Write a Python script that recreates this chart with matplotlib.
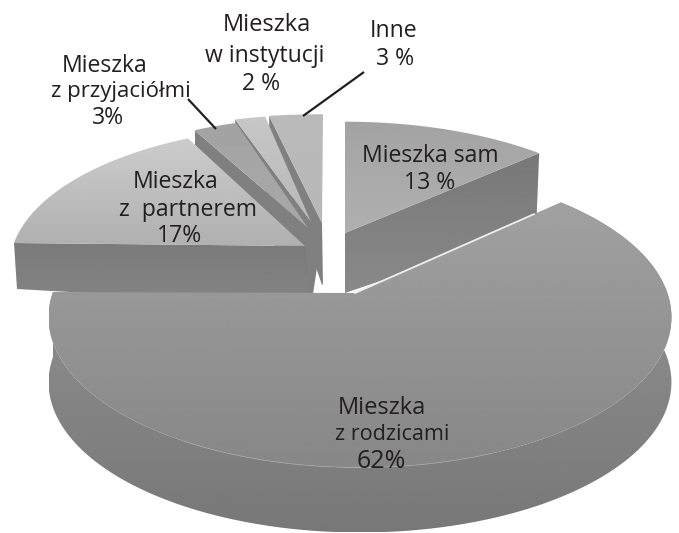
import numpy as np
import matplotlib
matplotlib.use("Agg")
import matplotlib.pyplot as plt
from matplotlib.patches import Polygon

# --- data ---
categories = ["Mieszka sam", "Mieszka z rodzicami", "Mieszka z partnerem",
              "Mieszka z przyjaciółmi", "Mieszka w instytucji", "Inne"]
shares = [13, 62, 17, 3, 2, 3]

# --- layout of the exploded 3D slices (pixels of the canvas) ---
W, H = 679, 533
PERSP = 0.168
geom = [
    dict(o=(345, 233), a=297, b=130, tip=(345, 233), d0=60, d1=75, lean=3, top=(0.64, 0.69), wall=(0.47, 0.54)),
    dict(o=(360, 292), a=307, b=146, tip=(355, 293), d0=65, d1=65, lean=0, top=(0.63, 0.53), wall=(0.59, 0.47)),
    dict(o=(314, 243), a=300, b=137, tip=(305, 246), d0=60, d1=46, lean=3, top=(0.80, 0.69), wall=(0.48, 0.52)),
    dict(o=(308, 228), a=270, b=128, tip=(308, 228), d0=60, d1=14, lean=0, top=(0.64, 0.66), wall=(0.50, 0.50)),
    dict(o=(311, 222), a=285, b=125, tip=(311, 222), d0=60, d1=12, lean=0, top=(0.78, 0.72), wall=(0.50, 0.50)),
    dict(o=(323, 223), a=335, b=127, tip=(322, 223), d0=62, d1=12, lean=0, top=(0.73, 0.72), wall=(0.50, 0.50)),
]
draw_order = [5, 4, 3, 0, 2, 1]
hub_shadow = [(300, 240), (322, 223), (323, 286), (317, 268), (313, 294), (300, 294)]

FS = 16.6
label_lines = [
    ("Mieszka sam", 430, 156, FS), ("13 %", 430, 183, FS),
    ("Mieszka", 176, 182, FS), ("z  partnerem", 188, 210, FS), ("17%", 180, 236, FS),
    ("Mieszka", 382, 408, 17.0), ("z rodzicami", 392, 435, 15.6), ("62%", 381, 461, 18.0),
    ("Mieszka", 267, 25, 17.0), ("w instytucji", 265, 56, 16.6), ("2 %", 261, 84, FS),
    ("Inne", 394, 31, FS), ("3 %", 395, 59, FS),
    ("Mieszka", 105, 66, FS), ("z przyjaciółmi", 121, 92, 16.0), ("3%", 108, 118, FS),
]
leaders = [((216, 129), (188, 99)), ((303, 116), (364, 72))]

plt.rcParams["font.family"] = ["Open Sans", "DejaVu Sans"]
fig = plt.figure(figsize=(W / 100, H / 100), dpi=100, facecolor="white")
ax = fig.add_axes([0, 0, 1, 1])
ax.axis("off")

zc = [1]


def project(g, theta):
    X, Y = np.sin(theta), -np.cos(theta)
    den = 1 - PERSP * Y
    return np.column_stack([g["o"][0] + g["a"] * X / den, g["o"][1] + g["b"] * Y / den])


def shade(poly, c0, c1):
    poly = np.asarray(poly, float)
    x0, y0 = poly.min(axis=0)
    x1, y1 = poly.max(axis=0)
    zc[0] += 1
    im = ax.imshow(np.linspace(c0, c1, 128)[:, None], cmap="gray", vmin=0, vmax=1,
                   extent=[x0, x1, y1, y0], aspect="auto", interpolation="bilinear", zorder=zc[0])
    im.set_clip_path(Polygon(poly, closed=True, transform=ax.transData))


fracs = np.cumsum([0] + shares) / sum(shares) * 2 * np.pi

for i in draw_order:
    g = geom[i]
    th = np.linspace(fracs[i], fracs[i + 1], 240)
    arc = project(g, th)
    tip = np.array(g["tip"], float)

    if i == 2:
        shade(hub_shadow, 0.50, 0.50)

    if i == 1:  # big slice: outer rim is the visible wall
        low = arc + [0, g["d0"]]
        shade(np.vstack([arc, low[::-1]]), *g["wall"])
    else:
        corner = arc[-1] if i == 0 else arc[0]
        wall = np.array([tip, corner,
                         corner + [g["lean"] * (1 if i == 2 else -1), g["d1"]],
                         tip + [8 if i == 2 else 0, g["d0"]]])
        shade(wall, *g["wall"])

    shade(np.vstack([tip, arc]), *g["top"])

    if i == 1:
        zc[0] += 1
        ax.plot(arc[120:175, 0], arc[120:175, 1], color="#a5a6a8", lw=0.5, zorder=zc[0])
        edge = np.array([tip, tip + (arc[0] - tip) * 0.87])
        ax.plot(edge[:, 0], edge[:, 1], color="#eeeeee", lw=1.3, zorder=zc[0])

ax.set_xlim(0, W)
ax.set_ylim(H, 0)

for (a, b) in leaders:
    ax.plot([a[0], b[0]], [a[1], b[1]], color="#231f20", lw=1.6, zorder=500, solid_capstyle="butt")

for s, x, y, fs in label_lines:
    ax.text(x, y, s, ha="center", va="center", fontsize=fs, color="#231f20", zorder=600)

fig.savefig("out.png", dpi=100, facecolor="white")
